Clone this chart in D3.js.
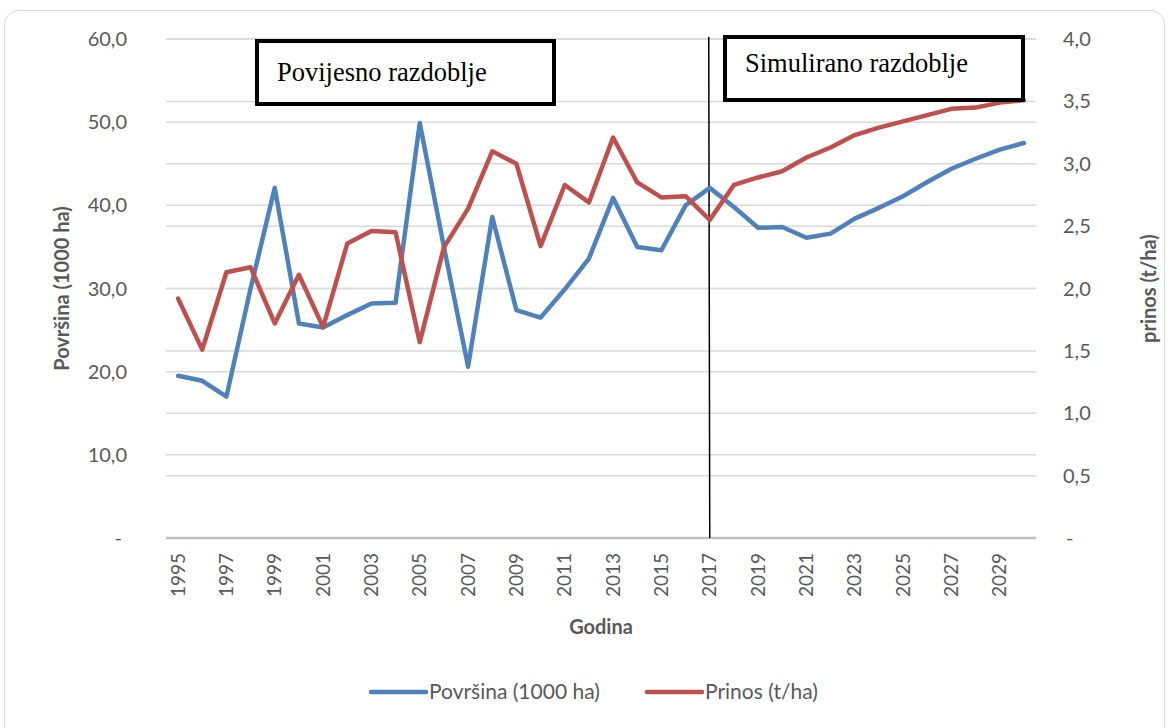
<!DOCTYPE html>
<html>
<head>
<meta charset="utf-8">
<script src="https://cdnjs.cloudflare.com/ajax/libs/d3/7.8.5/d3.min.js"></script>
<style>
  body { margin: 0; background: #fff; }
  svg { display: block; font-family: Lato, "Open Sans", sans-serif; }
</style>
</head>
<body>
<div id="chart"></div>
<script>
(function() {
  // Data
  const years = [1995, 1996, 1997, 1998, 1999, 2000, 2001, 2002, 2003, 2004, 2005, 2006,
                 2007, 2008, 2009, 2010, 2011, 2012, 2013, 2014, 2015, 2016, 2017, 2018,
                 2019, 2020, 2021, 2022, 2023, 2024, 2025, 2026, 2027, 2028, 2029, 2030];
  const povrsina = [19.5, 18.9, 17.0, 30.0, 42.1, 25.8, 25.3, 26.8, 28.2, 28.3, 49.9, 35.0,
                    20.6, 38.6, 27.4, 26.5, 29.9, 33.6, 40.9, 35.0, 34.6, 40.0, 42.1, 39.8,
                    37.3, 37.4, 36.1, 36.6, 38.4, 39.7, 41.1, 42.8, 44.4, 45.6, 46.7, 47.5];
  const prinos = [1.92, 1.51, 2.13, 2.17, 1.72, 2.11, 1.69, 2.36, 2.46, 2.45, 1.57, 2.33,
                  2.64, 3.10, 3.00, 2.34, 2.83, 2.69, 3.21, 2.85, 2.73, 2.74, 2.55, 2.83,
                  2.89, 2.94, 3.05, 3.13, 3.23, 3.29, 3.34, 3.39, 3.44, 3.45, 3.49, 3.51];
  const leftTicks = [0, 10, 20, 30, 40, 50, 60];
  const rightTicks = [0, 0.5, 1, 1.5, 2, 2.5, 3, 3.5, 4];
  const labelYears = [1995, 1997, 1999, 2001, 2003, 2005, 2007, 2009, 2011, 2013, 2015,
                      2017, 2019, 2021, 2023, 2025, 2027, 2029];
  const splitYear = 2017;
  const seriesNames = ["Površina (1000 ha)", "Prinos (t/ha)"];

  const width = 1168, height = 728;
  const plot = { left: 166, right: 1036, top: 39, bottom: 538 };
  const blue = "#4F81BD", red = "#C0504D";
  const textColor = "#595959";

  const svg = d3.select("#chart").append("svg")
    .attr("width", width)
    .attr("height", height);

  // Chart frame
  svg.append("rect")
    .attr("x", 4.5).attr("y", 10.5)
    .attr("width", 1160).attr("height", 740)
    .attr("rx", 14)
    .attr("fill", "#fff")
    .attr("stroke", "#d9d9d9");

  // Scales
  const x = d3.scaleBand().domain(years).range([plot.left, plot.right]);
  const cx = d => x(d) + x.bandwidth() / 2;
  const yL = d3.scaleLinear().domain([0, 60]).range([plot.bottom, plot.top]);
  const yR = d3.scaleLinear().domain([0, 4]).range([plot.bottom, plot.top]);

  const fmt = v => v === 0 ? "-" : d3.format(".1f")(v).replace(".", ",");

  // Gridlines for both axes
  svg.append("g").selectAll("line.gl")
    .data(leftTicks.filter(d => d > 0))
    .join("line")
    .attr("x1", plot.left).attr("x2", plot.right)
    .attr("y1", d => yL(d)).attr("y2", d => yL(d))
    .attr("stroke", "#d9d9d9").attr("stroke-width", 1.5);

  svg.append("g").selectAll("line.gr")
    .data(rightTicks.filter(d => d > 0))
    .join("line")
    .attr("x1", plot.left).attr("x2", plot.right)
    .attr("y1", d => yR(d)).attr("y2", d => yR(d))
    .attr("stroke", "#d9d9d9").attr("stroke-width", 1.5);

  // Category axis line
  svg.append("line")
    .attr("x1", plot.left).attr("x2", plot.right)
    .attr("y1", plot.bottom).attr("y2", plot.bottom)
    .attr("stroke", "#bfbfbf").attr("stroke-width", 2.5);

  // Left axis labels
  svg.append("g").selectAll("text")
    .data(leftTicks)
    .join("text")
    .attr("x", d => d === 0 ? 122 : 127)
    .attr("y", d => yL(d))
    .attr("dy", "0.35em")
    .attr("text-anchor", "end")
    .attr("font-size", 20)
    .attr("fill", textColor)
    .text(fmt);

  // Right axis labels
  svg.append("g").selectAll("text")
    .data(rightTicks)
    .join("text")
    .attr("x", d => d === 0 ? 1066 : 1063)
    .attr("y", d => yR(d))
    .attr("dy", "0.35em")
    .attr("text-anchor", "start")
    .attr("font-size", 20)
    .attr("fill", textColor)
    .text(fmt);

  // Year labels, rotated
  svg.append("g").selectAll("text")
    .data(labelYears)
    .join("text")
    .attr("transform", d => `translate(${cx(d)},553) rotate(-90)`)
    .attr("dy", "0.35em")
    .attr("text-anchor", "end")
    .attr("font-size", 19)
    .attr("fill", textColor)
    .text(d => d);

  // Axis titles
  svg.append("text")
    .attr("x", (plot.left + plot.right) / 2).attr("y", 634)
    .attr("text-anchor", "middle")
    .attr("font-size", 20).attr("font-weight", "bold")
    .attr("fill", textColor)
    .text("Godina");

  svg.append("text")
    .attr("transform", `translate(62,${(plot.top + plot.bottom) / 2}) rotate(-90)`)
    .attr("dy", "0.35em")
    .attr("text-anchor", "middle")
    .attr("font-size", 20).attr("font-weight", "bold")
    .attr("fill", textColor)
    .text("Površina (1000 ha)");

  svg.append("text")
    .attr("transform", `translate(1149,${(plot.top + plot.bottom) / 2}) rotate(-90)`)
    .attr("dy", "0.35em")
    .attr("text-anchor", "middle")
    .attr("font-size", 20).attr("font-weight", "bold")
    .attr("fill", textColor)
    .text("prinos (t/ha)");

  // Split line between historic and simulated periods
  svg.append("line")
    .attr("x1", cx(splitYear) - 1).attr("x2", cx(splitYear))
    .attr("y1", 37).attr("y2", plot.bottom)
    .attr("stroke", "#000").attr("stroke-width", 1.5);

  // Series lines
  const lineL = d3.line().x((d, i) => cx(years[i])).y(d => yL(d));
  const lineR = d3.line().x((d, i) => cx(years[i])).y(d => yR(d));

  svg.append("path")
    .datum(povrsina)
    .attr("d", lineL)
    .attr("fill", "none").attr("stroke", blue)
    .attr("stroke-width", 4.5)
    .attr("stroke-linejoin", "round").attr("stroke-linecap", "round");

  svg.append("path")
    .datum(prinos)
    .attr("d", lineR)
    .attr("fill", "none").attr("stroke", red)
    .attr("stroke-width", 4.5)
    .attr("stroke-linejoin", "round").attr("stroke-linecap", "round");

  // Annotation boxes
  const boxes = [
    { text: "Povijesno razdoblje", x: 257, y: 41, w: 297, h: 63, tx: 277, ty: 81 },
    { text: "Simulirano razdoblje", x: 725, y: 37, w: 298, h: 63, tx: 745, ty: 72 }
  ];
  const box = svg.append("g").selectAll("g")
    .data(boxes)
    .join("g");
  box.append("rect")
    .attr("x", d => d.x).attr("y", d => d.y)
    .attr("width", d => d.w).attr("height", d => d.h)
    .attr("fill", "#fff").attr("stroke", "#000").attr("stroke-width", 4);
  box.append("text")
    .attr("x", d => d.tx).attr("y", d => d.ty)
    .attr("font-family", "'Liberation Serif', 'Times New Roman', serif")
    .attr("font-size", 26.5)
    .attr("fill", "#000")
    .text(d => d.text);

  // Legend
  const legend = svg.append("g");
  const legendItems = [
    { name: seriesNames[0], color: blue, x: 371 },
    { name: seriesNames[1], color: red, x: 647 }
  ];
  legendItems.forEach(it => {
    legend.append("line")
      .attr("x1", it.x).attr("x2", it.x + 55)
      .attr("y1", 692).attr("y2", 692)
      .attr("stroke", it.color).attr("stroke-width", 4.5)
      .attr("stroke-linecap", "round");
    legend.append("text")
      .attr("x", it.x + 58).attr("y", 692)
      .attr("dy", "0.35em")
      .attr("font-size", 21)
      .attr("fill", textColor)
      .text(it.name);
  });
})();
</script>
</body>
</html>
